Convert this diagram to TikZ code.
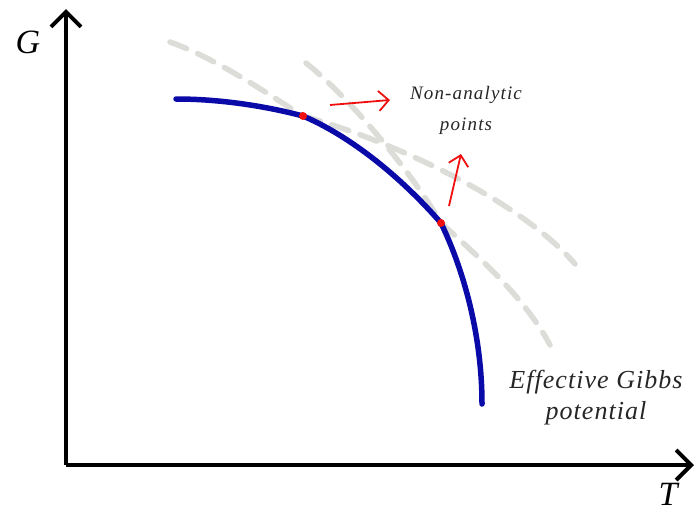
\documentclass[tikz,border=0pt]{standalone}
\usepackage{fontspec}
\setmainfont{Liberation Serif}
\usetikzlibrary{arrows.meta}
\definecolor{gibbs}{HTML}{0A0AA8}
\definecolor{ghost}{HTML}{DCDCD8}
\definecolor{dotred}{HTML}{F01010}

\begin{document}
\begin{tikzpicture}[
  x=1pt, y=-1pt,
  axis/.style={line width=4pt, -{Straight Barb[length=15pt,width=30pt,line width=4pt]}},
  phase/.style={draw=ghost, line width=5.5pt, line cap=round, dash pattern=on 18pt off 12pt},
  stable/.style={draw=gibbs, line width=5.5pt, line cap=round},
  hint/.style={draw=dotred, line width=1.8pt, -{Straight Barb[length=10pt,width=20pt,line width=1.8pt]}},
  lbl/.style={font=\itshape, align=center, text=black!85}
]
\useasboundingbox (0,0) rectangle (696,512);

% axes
\coordinate (O) at (66,465);
\coordinate (Gtop) at (66,9);
\coordinate (Tend) at (694,465);
\draw[axis] (O) -- (Gtop);
\draw[axis] (O) -- (Tend);
\node[font=\itshape\fontsize{34}{34}\selectfont] (G) at (28,42) {G};
\node[font=\itshape\fontsize{34}{34}\selectfont] (T) at (668,494) {T};

% transition points
\coordinate (p1) at (303,116);
\coordinate (p2) at (441,223);

% metastable branches
\draw[phase] (p1) .. controls (390,140) and (520,200) .. (575,264);
\draw[phase] (170,42) .. controls (215,58) and (265,92) .. (p1);
\draw[phase] (p2) .. controls (480,258) and (525,298) .. (550,345);
\draw[phase] (306,63) .. controls (350,98) and (410,170) .. (p2);

% effective Gibbs potential
\draw[stable] (176,99) .. controls (220,99) and (265,106) .. (p1)
  .. controls (350,136) and (400,176) .. (p2)
  .. controls (466,275) and (482,340) .. (482,404);
\fill[dotred] (p1) circle (4pt);
\fill[dotred] (p2) circle (4pt);

% labels
\node[lbl, font=\itshape\fontsize{19}{31}\selectfont\addfontfeature{LetterSpace=6}] (nonan) at (466,110)
  {Non-analytic\\points};
\coordinate (a1s) at (330,105);
\coordinate (a1e) at (390,100);
\coordinate (a2s) at (449,206);
\coordinate (a2e) at (461,154);
\draw[hint] (a1s) -- (a1e);
\draw[hint] (a2s) -- (a2e);

\node[lbl, font=\itshape\fontsize{26}{31}\selectfont\addfontfeature{LetterSpace=4}] (eff) at (596,398)
  {Effective Gibbs\\potential};
\end{tikzpicture}
\end{document}
